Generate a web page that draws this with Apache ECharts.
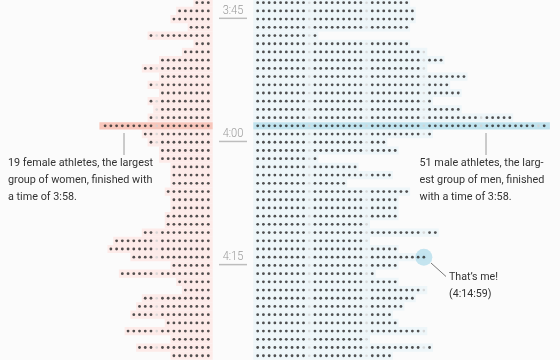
<!DOCTYPE html>
<html>
<head>
<meta charset="utf-8">
<script src="https://cdn.jsdelivr.net/npm/echarts@6/dist/echarts.min.js"></script>
<style>
html,body{margin:0;padding:0;background:#fbfbfb;}
#chart{width:560px;height:360px;}
</style>
</head>
<body>
<div id="chart"></div>
<script>
// Finish-time rows (one per minute), top to bottom
const rows = ['3:43','3:44','3:45','3:46','3:47','3:48','3:49','3:50','3:51','3:52','3:53','3:54','3:55','3:56','3:57','3:58','3:59','4:00','4:01','4:02','4:03','4:04','4:05','4:06','4:07','4:08','4:09','4:10','4:11','4:12','4:13','4:14','4:15','4:16','4:17','4:18','4:19','4:20','4:21','4:22','4:23','4:24','4:25','4:26'];
// Number of female athletes per minute
const female = [3,6,7,4,11,3,5,9,12,9,11,9,11,10,11,19,12,11,9,9,7,7,7,8,7,7,8,8,12,17,18,14,7,16,6,5,12,13,14,8,15,7,13,7];
// Number of male athletes per minute
const male = [27,28,28,27,11,27,30,33,30,37,34,36,31,36,45,51,31,23,25,11,18,24,16,27,25,25,25,20,32,20,25,30,25,21,25,30,28,26,24,25,30,20,31,24];
// Time tick labels
const timeTicks = ['3:45','4:00','4:15'];
const highlightRow = '3:58';
const meRow = '4:14';
const meLabel = ['That\u2019s me!', '(4:14:59)'];
const femaleNote = ['19 female athletes, the largest', 'group of women, finished with', 'a time of 3:58.'];
const maleNote = ['51 male athletes, the larg-', 'est group of men, finished', 'with a time of 3:58.'];

const OFF = 4.31;          // slot offset from the centre line (in slot units)
const hi = rows.indexOf(highlightRow);
const meIdx = rows.indexOf(meRow);

// condensed look: horizontal scale derived from measured text width
const mctx = document.createElement('canvas').getContext('2d');
function fitScale(text, font, target) {
  mctx.font = font;
  return target / mctx.measureText(text).width;
}
const noteFont = '11.2px Roboto';
const noteScale = fitScale(femaleNote[0], noteFont, 145);
const maleScale = fitScale(maleNote[0], noteFont, 124);
const meScale = fitScale(meLabel[0], noteFont, 49);
const tickFont = '300 12.5px Roboto';
const tickScale = fitScale('4:00', tickFont, 20.7);

const darkDots = [], lightDots = [];
rows.forEach((t, r) => {
  for (let k = 0; k < female[r]; k++) {
    (k % 10 === 9 ? lightDots : darkDots).push([-(OFF + k), r]);
  }
  for (let k = 0; k < male[r]; k++) {
    const isMe = (r === meIdx && k === male[r] - 1);
    (k % 10 === 9 && !isMe ? lightDots : darkDots).push([OFF + k, r]);
  }
});

const bands = [];
rows.forEach((t, r) => {
  bands.push([0, r, female[r], r === hi ? 1 : 0]);
  bands.push([1, r, male[r], r === hi ? 1 : 0]);
});

function bandItem(params, api) {
  const side = api.value(0), r = api.value(1), n = api.value(2), h = api.value(3);
  const ext = h ? 1.0 : 0.6;
  const half = h ? 0.45 : 0.5;
  let x0, x1;
  if (side === 0) { x0 = -(OFF + n - 1 + ext); x1 = -(OFF - 0.77); }
  else { x0 = OFF - 0.77; x1 = OFF + n - 1 + ext; }
  const p0 = api.coord([x0, r - half]);
  const p1 = api.coord([x1, r + half]);
  let color;
  if (side === 0) color = h ? '#f8c6bb' : '#fdebe9';
  else color = h ? '#c0e3ee' : '#eef6f9';
  return {
    type: 'rect',
    shape: { x: Math.min(p0[0], p1[0]), y: Math.min(p0[1], p1[1]), width: Math.abs(p1[0] - p0[0]), height: Math.abs(p1[1] - p0[1]) },
    style: { fill: color }
  };
}

const tickData = timeTicks.map(t => [0, rows.indexOf(t), t]);
function tickItem(params, api) {
  const p = api.coord([api.value(0), api.value(1)]);
  const label = timeTicks[params.dataIndex];
  return {
    type: 'group',
    children: [
      { type: 'text', x: p[0], y: p[1] - 8.5, scaleX: tickScale,
        style: { text: label, fill: '#9a9a9a', font: tickFont, align: 'center', verticalAlign: 'middle' } },
      { type: 'line', shape: { x1: p[0] - 14, y1: p[1] - 0.8, x2: p[0] + 14, y2: p[1] - 0.8 },
        style: { stroke: '#bdbdbd', lineWidth: 1.5 } }
    ]
  };
}

const chart = echarts.init(document.getElementById('chart'), null, { renderer: 'canvas' });
chart.setOption({
  backgroundColor: '#fbfbfb',
  animation: false,
  grid: { left: 0, right: 0, top: 0, bottom: 0 },
  xAxis: { type: 'value', min: -40.66, max: 57.07, show: false },
  yAxis: { type: 'value', inverse: true, min: -0.329, max: 43.52, show: false },
  series: [
    { type: 'custom', renderItem: bandItem, data: bands, z: 1, silent: true },
    { type: 'custom', renderItem: tickItem, data: tickData, z: 2, silent: true },
    { type: 'scatter', data: [[OFF + male[meIdx] - 1, meIdx]], symbolSize: 17,
      itemStyle: { color: '#b6dfec' }, z: 3, silent: true },
    { type: 'scatter', data: lightDots, symbolSize: 2.6, itemStyle: { color: '#d0d0d0' }, z: 4, silent: true },
    { type: 'scatter', data: darkDots, symbolSize: 2.8, itemStyle: { color: '#262626' }, z: 5, silent: true }
  ],
  graphic: [
    { type: 'line', z: 100, shape: { x1: 124, y1: 133, x2: 124, y2: 155 }, style: { stroke: '#9a9a9a', lineWidth: 1 } },
    { type: 'line', z: 100, shape: { x1: 486, y1: 133, x2: 486, y2: 155 }, style: { stroke: '#9a9a9a', lineWidth: 1 } },
    { type: 'text', z: 100, x: 8, y: 155, scaleX: noteScale,
      style: { text: femaleNote.join('\n'), font: noteFont, fill: '#333', lineHeight: 16.8 } },
    { type: 'text', z: 100, x: 419.5, y: 155, scaleX: maleScale,
      style: { text: maleNote.join('\n'), font: noteFont, fill: '#333', lineHeight: 16.8 } },
    { type: 'line', z: 100, shape: { x1: 431, y1: 263, x2: 446, y2: 276.5 }, style: { stroke: '#777', lineWidth: 1 } },
    { type: 'text', z: 100, x: 449, y: 268.5, scaleX: meScale,
      style: { text: meLabel.join('\n'), font: noteFont, fill: '#333', lineHeight: 16.8 } }
  ]
});
</script>
</body>
</html>
